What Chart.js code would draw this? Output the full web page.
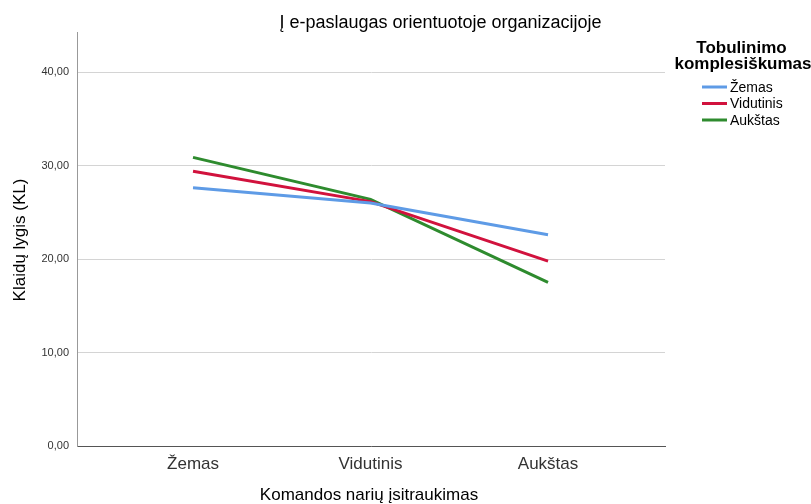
<!DOCTYPE html>
<html><head><meta charset="utf-8">
<script src="https://cdn.jsdelivr.net/npm/chart.js@4/dist/chart.umd.min.js"></script>
<style>html,body{margin:0;padding:0;background:#fff}#w{width:811px;height:504px}</style>
</head><body><div id="w"><canvas id="c"></canvas></div>
<script>
const categories = ['Žemas', 'Vidutinis', 'Aukštas'];
const seriesNames = ['Žemas', 'Vidutinis', 'Aukštas'];
const zemas = [27.63, 26.0, 22.6];
const vidutinis = [29.41, 26.15, 19.79];
const aukstas = [30.88, 26.39, 17.51];
const yTicks = [0, 10, 20, 30, 40];
const colors = ['#5e9be6', '#d1123d', '#2e8b2e'];
const FONT = "'Liberation Sans', Arial, sans-serif";

const allSeries = [zemas, vidutinis, aukstas];
const datasets = allSeries.map((vals, k) => ({
  label: seriesNames[k],
  data: vals.map((v, i) => ({x: i, y: v})),
  borderColor: colors[k], backgroundColor: colors[k],
  borderWidth: 3, pointRadius: 0, tension: 0, fill: false
}));

const textPlugin = {
  id: 'texts',
  afterDraw(chart) {
    const ctx = chart.ctx;
    ctx.save();
    ctx.fillStyle = '#000';
    ctx.textBaseline = 'alphabetic';
    ctx.textAlign = 'center';
    ctx.font = '18px ' + FONT;
    ctx.fillText('Į e-paslaugas orientuotoje organizacijoje', 440.5, 28);
    ctx.font = '17px ' + FONT;
    ctx.fillText('Komandos narių įsitraukimas', 369, 500);
    ctx.save();
    ctx.translate(25, 240);
    ctx.rotate(-Math.PI / 2);
    ctx.fillText('Klaidų lygis (KL)', 0, 0);
    ctx.restore();
    ctx.textBaseline = 'middle';
    ctx.font = 'bold 17px ' + FONT;
    ctx.fillText('Tobulinimo', 741.5, 48);
    ctx.fillText('komplesiškumas', 743, 64);
    ctx.textAlign = 'left';
    ctx.font = '14px ' + FONT;
    seriesNames.forEach((n, k) => {
      const y = 87 + k * 16.5;
      ctx.strokeStyle = colors[k];
      ctx.lineWidth = 3;
      ctx.beginPath(); ctx.moveTo(702, y); ctx.lineTo(727, y); ctx.stroke();
      ctx.fillStyle = '#000';
      ctx.fillText(n, 730, y + 1);
    });
    ctx.restore();
  }
};

new Chart(document.getElementById('c'), {
  type: 'line',
  data: { datasets },
  options: {
    responsive: true, maintainAspectRatio: false, animation: false,
    layout: { padding: { left: 0, right: 146, top: 32, bottom: 0 } },
    plugins: { legend: { display: false }, title: { display: false }, tooltip: { enabled: false } },
    scales: {
      x: {
        type: 'linear', min: -0.6536, max: 2.659,
        afterBuildTicks(s) { s.ticks = categories.map((c, i) => ({ value: i })); },
        afterFit(s) { s.height = 58; },
        grid: { display: false, drawTicks: false },
        border: { display: true, color: '#555', width: 1 },
        ticks: { padding: 8, color: '#333', font: { family: FONT, size: 17 },
          callback: (v) => categories[v] }
      },
      y: {
        min: 0, max: 44.3,
        afterBuildTicks(s) { s.ticks = yTicks.map(v => ({ value: v })); },
        afterFit(s) { s.width = 77; },
        grid: { color: '#d4d4d4', lineWidth: 1, drawTicks: false },
        border: { display: true, color: '#999', width: 1 },
        ticks: { padding: 8, color: '#333', font: { family: FONT, size: 11 },
          callback: (v) => v.toFixed(2).replace('.', ',') }
      }
    }
  },
  plugins: [textPlugin]
});
</script></body></html>
